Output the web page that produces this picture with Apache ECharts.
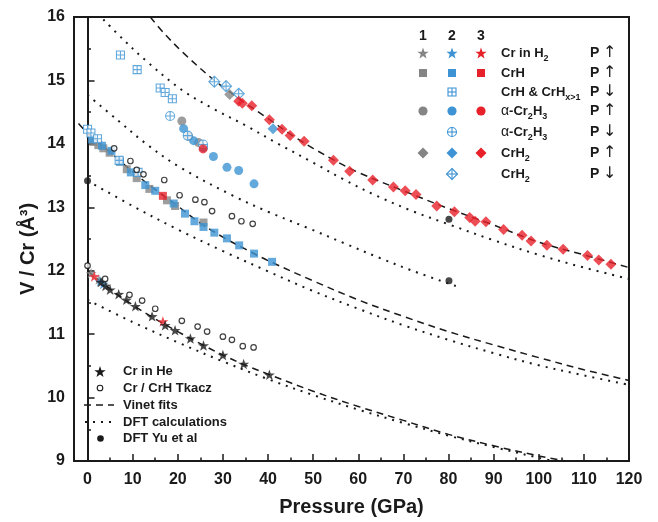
<!DOCTYPE html>
<html><head><meta charset="utf-8">
<script src="https://cdn.jsdelivr.net/npm/echarts@6/dist/echarts.min.js"></script>
<style>html,body{margin:0;padding:0;background:#fff}#c{width:658px;height:522px}</style>
</head><body><div id="c"></div>
<script>
// ---------- data ----------
const xMajorTicks = [0,10,20,30,40,50,60,70,80,90,100,110,120];
const xMinorTicks = [5,15,25,35,45,55,65,75,85,95,105,115];

const crInHe = [[3.0,11.82],[4.0,11.76],[5.0,11.70],[6.9,11.63],[8.6,11.54],[10.6,11.44],[14.3,11.28],[17.2,11.14],[19.4,11.06],[22.8,10.93],[25.7,10.82],[30.0,10.67],[34.6,10.53],[40.3,10.36]];
const tkacz = [[0,12.08],[3.9,11.87],[9.3,11.62],[12.1,11.53],[15.0,11.40],[20.9,11.21],[24.4,11.12],[26.5,11.04],[30.0,10.96],[32.0,10.91],[34.4,10.81],[36.8,10.79],
  [5.9,13.93],[9.5,13.73],[10.9,13.59],[12.4,13.52],[17.0,13.43],[20.4,13.19],[23.9,13.12],[25.9,13.08],[27.6,12.94],[32.0,12.86],[34.1,12.78],[36.6,12.74]];
const yu = [[0,13.42],[80.1,12.81],[80.1,11.84]];

const starGray = [[0.8,11.96],[2.5,11.86]];
const starBlue = [[2.8,11.83],[3.5,11.79]];
const starRed = [[1.5,11.91],[16.7,11.20]];

const squareGray = [[1.3,14.03],[2.4,13.98],[3.5,13.93],[4.9,13.86],[7.2,13.72],[8.7,13.60],[10.9,13.46],[13.7,13.29],[17.6,13.11],[19.4,13.02],[25.7,12.76]];
const squareBlue = [[1.0,14.07],[3.2,13.97],[5.3,13.89],[7.2,13.72],[9.6,13.55],[12.8,13.35],[15.0,13.26],[19.1,13.06],[21.6,12.90],[23.7,12.78],[25.7,12.69],[28.1,12.60],[30.9,12.51],[33.6,12.40],[36.9,12.27],[40.9,12.14]];
const squareRed = [[16.7,13.18]];
const squareCrossBlue = [[0,14.23],[0.75,14.17],[2.2,14.08],[7.0,13.74],[11.2,13.55],[7.3,15.40],[11.0,15.17],[16.1,14.88],[17.2,14.81],[18.8,14.71]];

const circleGray = [[20.9,14.36],[22.4,14.12],[24.6,14.02]];
const circleBlue = [[21.3,14.24],[23.5,14.05],[25.7,13.94],[27.9,13.80],[30.9,13.63],[33.5,13.58],[36.9,13.37]];
const circleRed = [[25.6,13.92]];
const circleCrossBlue = [[18.3,14.44],[22.2,14.13],[25.6,13.99]];

const diamondGray = [[31.5,14.78]];
const diamondBlue = [[41.1,14.24]];
const diamondRed = [[33.5,14.67],[34.3,14.64],[36.4,14.60],[40.3,14.38],[43.1,14.23],[44.9,14.13],[48.0,14.04],[54.5,13.74],[58.1,13.57],[63.2,13.43],[67.8,13.32],[70.4,13.26],[72.8,13.20],[77.4,13.02],[81.3,12.93],[84.7,12.84],[85.9,12.78],[88.3,12.77],[92.2,12.65],[96.3,12.56],[98.3,12.47],[101.8,12.40],[105.4,12.34],[110.8,12.24],[113.3,12.17],[116.0,12.10]];
const diamondCrossBlue = [[28.1,14.98],[30.7,14.91],[33.5,14.79]];

const vinetCrH2 = [[13.9,16.0],[17,15.74],[21.3,15.43],[27.9,15.01],[30,14.90],[35,14.64],[40,14.40],[45,14.15],[50,13.93],[55,13.73],[60,13.55],[70,13.26],[80,12.98],[90,12.72],[100,12.45],[110,12.25],[120,12.05]];
const vinetCrH = [[-2,14.32],[0,14.17],[5,13.87],[10,13.56],[15,13.28],[20,13.02],[25,12.75],[30,12.53],[35,12.34],[40,12.16],[50,11.84],[60,11.54],[70,11.28],[80,11.04],[90,10.83],[100,10.63],[110,10.44],[120,10.27]];
const vinetCr = [[0,12.0],[5,11.71],[10,11.46],[15,11.24],[20,11.04],[25,10.85],[30,10.67],[35,10.51],[40,10.37],[50,10.10],[60,9.86],[70,9.64],[80,9.42],[90,9.24],[100,9.08],[106,9.0]];

const dftCrH2 = [[3.5,15.96],[8,15.64],[12.8,15.32],[20.9,14.85],[28,14.55],[35.3,14.28],[42,14.01],[50.1,13.70],[57,13.43],[64.1,13.18],[72,12.94],[79.7,12.74],[90,12.48],[100,12.25],[110,12.05],[120,11.87]];
const dftCr2H3 = [[0,14.77],[6.9,14.36],[13,14.0],[20.5,13.63],[32.3,13.18],[40,12.93],[49.3,12.66],[57,12.43],[64.8,12.20],[72,12.0],[82,11.75]];
const dftCrH = [[0,13.42],[10,13.02],[20,12.65],[30,12.31],[40,11.99],[49.3,11.70],[60,11.40],[70,11.14],[80,10.91],[90,10.70],[100,10.51],[110,10.35],[120,10.20]];
const dftCr = [[0,11.54],[10,11.19],[20,10.87],[30,10.57],[40,10.29],[50,10.04],[60,9.81],[70,9.60],[80,9.40],[90,9.22],[100,9.05],[103,9.0]];

// ---------- styles ----------
const F = 'Liberation Sans, Arial, sans-serif';
const BLACK = '#1a1a1a', GRAY = '#858585', BLUE = '#3d93d3', RED = '#e8202a';
const STAR = 'path://M50 0 L61.76 33.82 L97.55 34.55 L69.02 56.18 L79.39 90.45 L50 70 L20.61 90.45 L30.98 56.18 L2.45 34.55 L38.24 33.82 Z';
const XSQ = 'path://M0 0 L10 0 L10 10 L0 10 Z M5 0 L5 10 M0 5 L10 5';
const XCI = 'path://M10 5 A5 5 0 1 1 0 5 A5 5 0 1 1 10 5 Z M5 0 L5 10 M0 5 L10 5';
const XDI = 'path://M5 0 L10 5 L5 10 L0 5 Z M5 0 L5 10 M0 5 L10 5';

function sc(data, symbol, size, color, extra) {
  return Object.assign({type:'scatter', data, symbol, symbolSize:size, symbolKeepAspect:true,
    itemStyle:{color}, silent:true}, extra || {});
}
function cross(data, symbol, size) {
  return sc(data, symbol, size, '#fff', {itemStyle:{color:'#fff', borderColor:BLUE, borderWidth:1.1}});
}
function ln(data, dotted) {
  return {type:'line', data, showSymbol:false, symbol:'none', smooth:0.35, silent:true, z:1,
    lineStyle: dotted ? {color:BLACK, width:2, type:[2,6]} : {color:BLACK, width:1.5, type:[7,5]}};
}

// ---------- legend graphics ----------
function starPts(cx, cy, R) {
  const p = [];
  for (let i = 0; i < 10; i++) {
    const r = i % 2 ? R * 0.4 : R;
    const a = -Math.PI / 2 + i * Math.PI / 5;
    p.push([cx + r * Math.cos(a), cy + r * Math.sin(a) + R*0.1]);
  }
  return p;
}
const G = [];
const cols = [423, 452, 481];
function mk(kind, col, y, color) {
  const x = cols[col];
  if (kind === 'star') G.push({type:'polygon', shape:{points:starPts(x, y, 6)}, style:{fill:color}});
  if (kind === 'sq') G.push({type:'rect', shape:{x:x-4, y:y-4, width:8, height:8}, style:{fill:color}});
  if (kind === 'ci') G.push({type:'circle', shape:{cx:x, cy:y, r:4.6}, style:{fill:color}});
  if (kind === 'di') G.push({type:'polygon', shape:{points:[[x,y-5.5],[x+5.5,y],[x,y+5.5],[x-5.5,y]]}, style:{fill:color}});
  const xs = {stroke:BLUE, lineWidth:1.1, fill:'#fff'};
  if (kind === 'xsq') { G.push({type:'rect', shape:{x:x-4, y:y-4, width:8, height:8}, style:xs});
    G.push({type:'polyline', shape:{points:[[x,y-4],[x,y+4]]}, style:{stroke:BLUE, lineWidth:1.1}});
    G.push({type:'polyline', shape:{points:[[x-4,y],[x+4,y]]}, style:{stroke:BLUE, lineWidth:1.1}}); }
  if (kind === 'xci') { G.push({type:'circle', shape:{cx:x, cy:y, r:4.5}, style:xs});
    G.push({type:'polyline', shape:{points:[[x,y-4.5],[x,y+4.5]]}, style:{stroke:BLUE, lineWidth:1.1}});
    G.push({type:'polyline', shape:{points:[[x-4.5,y],[x+4.5,y]]}, style:{stroke:BLUE, lineWidth:1.1}}); }
  if (kind === 'xdi') { G.push({type:'polygon', shape:{points:[[x,y-5.5],[x+5.5,y],[x,y+5.5],[x-5.5,y]]}, style:xs});
    G.push({type:'polyline', shape:{points:[[x,y-5.5],[x,y+5.5]]}, style:{stroke:BLUE, lineWidth:1.1}});
    G.push({type:'polyline', shape:{points:[[x-5.5,y],[x+5.5,y]]}, style:{stroke:BLUE, lineWidth:1.1}}); }
}
const rich = {
  n:{fontSize:13, fontWeight:'bold', fontFamily:F, color:BLACK, lineHeight:20},
  s:{fontSize:9, fontWeight:'bold', fontFamily:F, color:BLACK, lineHeight:10, verticalAlign:'bottom'},
  g:{fontSize:14, fontFamily:F, color:BLACK, lineHeight:20},
  p:{fontSize:14, fontWeight:'bold', fontFamily:F, color:BLACK, lineHeight:20},
  a:{fontSize:16, fontFamily:'DejaVu Sans', color:BLACK, lineHeight:20}
};
function txt(x, y, text, extraStyle) {
  G.push({type:'text', x, y, style:Object.assign({text, rich, align:'left', verticalAlign:'middle',
    font:'bold 13px ' + F, fill:BLACK}, extraStyle || {})});
}
['1','2','3'].forEach((t,i)=>G.push({type:'text', x:cols[i], y:36, style:{text:t, font:'bold 14px '+F, fill:BLACK, align:'center', verticalAlign:'middle'}}));
const rows = [
  {y:53, marks:[['star',0,GRAY],['star',1,BLUE],['star',2,RED]], label:'{n|Cr in H}{s|2}', up:true},
  {y:73, marks:[['sq',0,GRAY],['sq',1,BLUE],['sq',2,RED]], label:'{n|CrH}', up:true},
  {y:92, marks:[['xsq',1]], label:'{n|CrH & CrH}{s|x>1}', up:false},
  {y:111, marks:[['ci',0,GRAY],['ci',1,BLUE],['ci',2,RED]], label:'{g|α}{n|-Cr}{s|2}{n|H}{s|3}', up:true},
  {y:132, marks:[['xci',1]], label:'{g|α}{n|-Cr}{s|2}{n|H}{s|3}', up:false},
  {y:153, marks:[['di',0,GRAY],['di',1,BLUE],['di',2,RED]], label:'{n|CrH}{s|2}', up:true},
  {y:174, marks:[['xdi',1]], label:'{n|CrH}{s|2}', up:false}
];
rows.forEach(r => {
  r.marks.forEach(m => mk(m[0], m[1], r.y, m[2]));
  txt(501, r.y, r.label);
  txt(590, r.y, r.up ? '{p|P} {a|↑}' : '{p|P} {a|↓}');
});
// bottom-left legend
G.push({type:'polygon', shape:{points:starPts(100, 371.5, 6)}, style:{fill:BLACK}});
txt(123, 371.5, '{n|Cr in He}');
G.push({type:'circle', shape:{cx:100, cy:388, r:2.8}, style:{fill:'#fff', stroke:BLACK, lineWidth:1.1}});
txt(123, 388, '{n|Cr / CrH Tkacz}');
G.push({type:'polyline', shape:{points:[[84,405],[114,405]]}, style:{stroke:BLACK, lineWidth:1.5, lineDash:[7,5]}});
txt(123, 405, '{n|Vinet fits}');
G.push({type:'polyline', shape:{points:[[85,422],[114,422]]}, style:{stroke:BLACK, lineWidth:2, lineDash:[2,6]}});
txt(123, 422, '{n|DFT calculations}');
G.push({type:'circle', shape:{cx:100.5, cy:438.5, r:3.3}, style:{fill:BLACK}});
txt(123, 438.5, '{n|DFT Yu et al}');
// y title
G.push({type:'text', x:28, y:249, rotation:Math.PI/2, style:{text:'V / Cr (Å³)', font:'bold 20px '+F, fill:BLACK, align:'center', verticalAlign:'middle'}});

const chart = echarts.init(document.getElementById('c'), null, {renderer:'canvas'});
chart.setOption({
  animation:false,
  backgroundColor:'#fff',
  grid:{left:74, right:29, top:17, bottom:58, containLabel:false, show:true, borderColor:BLACK, borderWidth:2},
  xAxis:[{
    type:'value', min:-3, max:120, position:'bottom',
    axisLine:{lineStyle:{color:BLACK, width:2}},
    axisTick:{show:true, inside:true, length:7, customValues:xMajorTicks, lineStyle:{color:BLACK, width:1.5}},
    axisLabel:{customValues:xMajorTicks, fontSize:16, fontWeight:'bold', fontFamily:F, color:BLACK, margin:11},
    splitLine:{show:false},
    name:'Pressure (GPa)', nameLocation:'middle', nameGap:36,
    nameTextStyle:{fontSize:20, fontWeight:'bold', fontFamily:F, color:BLACK}
  },{
    type:'value', min:-3, max:120, position:'bottom', offset:0,
    axisLine:{show:false},
    axisTick:{show:true, inside:true, length:3.5, customValues:xMinorTicks, lineStyle:{color:BLACK, width:1.5}},
    axisLabel:{show:false}, splitLine:{show:false}
  }],
  yAxis:{
    type:'value', min:9, max:16, interval:1,
    axisLine:{show:true, lineStyle:{color:BLACK, width:2}},
    axisTick:{show:true, inside:true, length:7, lineStyle:{color:BLACK, width:1.5}},
    minorTick:{show:true, splitNumber:2, length:3.5, lineStyle:{color:BLACK, width:1.5}},
    axisLabel:{fontSize:16, fontWeight:'bold', fontFamily:F, color:BLACK, margin:9},
    splitLine:{show:false}, minorSplitLine:{show:false}
  },
  series:[
    ln(vinetCrH2,false), ln(vinetCrH,false), ln(vinetCr,false),
    ln(dftCrH2,true), ln(dftCr2H3,true), ln(dftCrH,true), ln(dftCr,true),
    sc(squareGray,'rect',8,GRAY), sc(circleGray,'circle',9,GRAY), sc(diamondGray,'diamond',11,GRAY), sc(starGray,STAR,11,GRAY),
    sc(squareBlue,'rect',8,BLUE), sc(circleBlue,'circle',9,BLUE), sc(diamondBlue,'diamond',11,BLUE), sc(starBlue,STAR,11,BLUE),
    cross(squareCrossBlue, XSQ, 8), cross(circleCrossBlue, XCI, 9), cross(diamondCrossBlue, XDI, 11),
    sc(squareRed,'rect',8,RED), sc(circleRed,'circle',9,RED), sc(diamondRed,'diamond',11,RED), sc(starRed,STAR,11,RED),
    sc(crInHe,STAR,11,BLACK),
    sc(tkacz,'circle',5.5,'#fff',{itemStyle:{color:'#ffffff', borderColor:'#111111', borderWidth:1.2}, z:5}),
    sc(yu,'circle',7,BLACK)
  ],
  graphic:{elements:G}
});
</script></body></html>
